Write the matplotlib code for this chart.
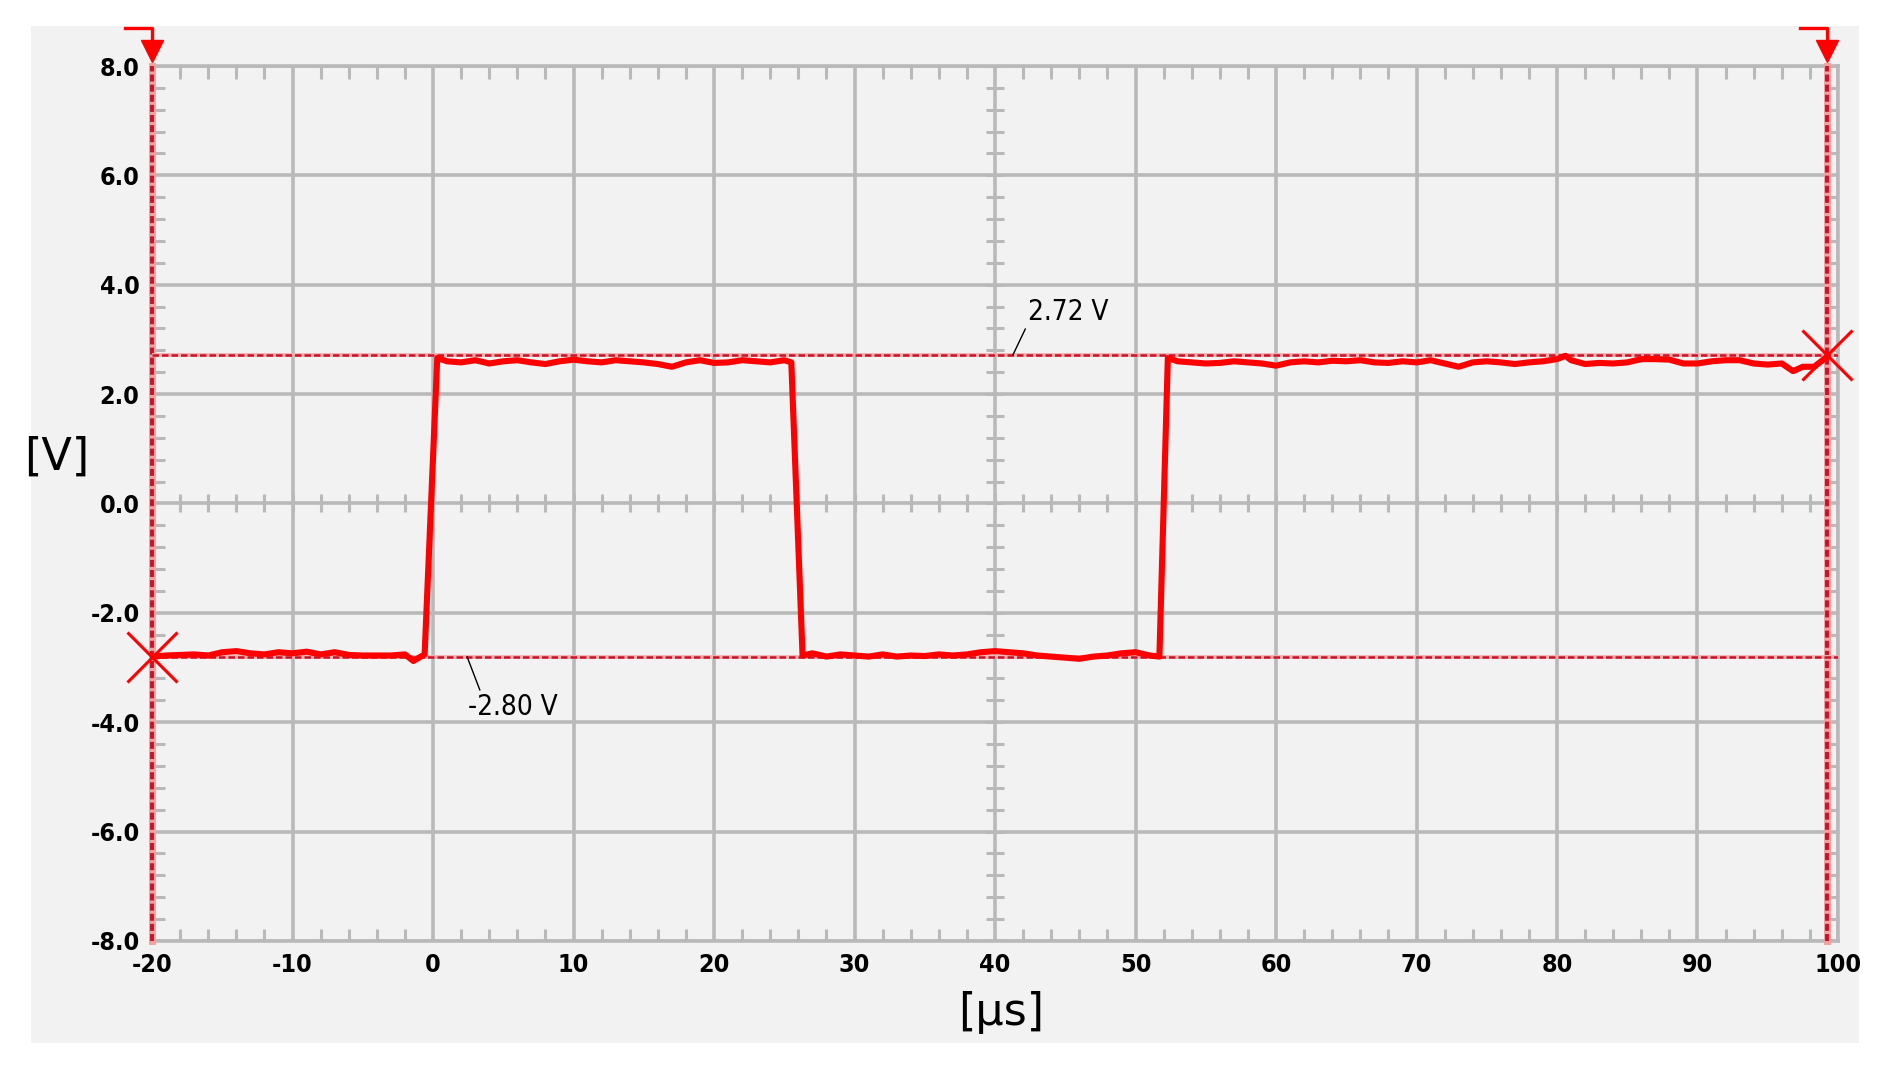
import numpy as np
import matplotlib
matplotlib.use("Agg")
import matplotlib.pyplot as plt
from matplotlib.patches import Rectangle

plt.rcParams['axes.unicode_minus'] = False
plt.rcParams['font.family'] = ['DejaVu Sans']

# --- signal ---
t_low1 = [-20, -19, -18, -17, -16, -15, -14, -13, -12, -11, -10, -9, -8, -7,
          -6, -5, -4, -3, -2, -1.4, -0.6]
v_low1 = [-2.80, -2.78, -2.77, -2.76, -2.78, -2.72, -2.70, -2.74, -2.76, -2.72,
          -2.74, -2.71, -2.76, -2.72, -2.77, -2.78, -2.78, -2.78, -2.76, -2.88, -2.76]

t_high1 = [0.3, 1, 2, 3, 4, 5, 6, 7, 8, 9, 10, 11, 12, 13, 14, 15, 16, 17, 18,
           19, 20, 21, 22, 23, 24, 25, 25.5]
v_high1 = [2.66, 2.60, 2.58, 2.62, 2.56, 2.60, 2.62, 2.58, 2.55, 2.60, 2.63, 2.60,
           2.58, 2.62, 2.60, 2.58, 2.55, 2.50, 2.58, 2.62, 2.57, 2.58, 2.62, 2.60,
           2.58, 2.62, 2.58]

t_low2 = [26.3, 27, 28, 29, 30, 31, 32, 33, 34, 35, 36, 37, 38, 39, 40, 41, 42,
          43, 44, 45, 46, 47, 48, 49, 50, 51, 51.7]
v_low2 = [-2.78, -2.74, -2.80, -2.76, -2.78, -2.80, -2.76, -2.80, -2.78, -2.79,
          -2.76, -2.78, -2.76, -2.72, -2.70, -2.72, -2.74, -2.78, -2.80, -2.82,
          -2.84, -2.80, -2.78, -2.74, -2.72, -2.78, -2.80]

t_high2 = [52.3, 53, 54, 55, 56, 57, 58, 59, 60, 61, 62, 63, 64, 65, 66, 67, 68,
           69, 70, 71, 72, 73, 74, 75, 76, 77, 78, 79, 80, 80.6, 81, 82, 83, 84,
           85, 86, 87, 88, 89, 90, 91, 92, 93, 94, 95, 96, 96.8, 97.5, 98.3, 99.1]
v_high2 = [2.66, 2.60, 2.58, 2.56, 2.57, 2.60, 2.58, 2.56, 2.52, 2.58, 2.60, 2.58,
           2.61, 2.60, 2.62, 2.58, 2.57, 2.60, 2.58, 2.62, 2.56, 2.50, 2.58, 2.60,
           2.58, 2.55, 2.58, 2.60, 2.64, 2.70, 2.62, 2.55, 2.57, 2.56, 2.58, 2.64,
           2.64, 2.63, 2.56, 2.56, 2.60, 2.62, 2.62, 2.56, 2.54, 2.56, 2.42, 2.50,
           2.50, 2.66]

# cursors
cursor_t = [-20, 99.2]
cursor_v = [-2.80, 2.72]
cursor_labels = ['-2.80 V', '2.72 V']

x_ticks = [-20, -10, 0, 10, 20, 30, 40, 50, 60, 70, 80, 90, 100]
y_ticks = [-8.0, -6.0, -4.0, -2.0, 0.0, 2.0, 4.0, 6.0, 8.0]

t = np.concatenate([t_low1, t_high1, t_low2, t_high2])
v = np.concatenate([v_low1, v_high1, v_low2, v_high2])

grid_c = '#b9b9b9'
bg = '#f2f2f2'
red = '#ff0000'
dred = '#c81428'

fig = plt.figure(figsize=(18.96, 10.75), dpi=100)
fig.patch.set_facecolor('white')
fig.patches.append(Rectangle((0.0164, 0.0298), 0.9641, 0.946, transform=fig.transFigure,
                             facecolor=bg, edgecolor='none', zorder=-10))

ax = fig.add_axes([0.0802, 0.1247, 0.8892, 0.8139])
ax.set_facecolor(bg)
ax.set_xlim(-20, 100)
ax.set_ylim(-8, 8)

ax.set_xticks(x_ticks)
ax.set_xticklabels([str(x) for x in x_ticks])
ax.set_yticks(y_ticks)
ax.set_yticklabels(['%.1f' % y for y in y_ticks])
ax.set_xticks(np.arange(-20, 100.1, 2), minor=True)
ax.set_yticks(np.arange(-8, 8.01, 0.4), minor=True)
ax.grid(True, which='major', color=grid_c, lw=2.6, zorder=0)
ax.tick_params(which='major', length=0, pad=9, labelsize=18, labelcolor='black')
ax.tick_params(which='minor', direction='in', length=9, width=2.2, color=grid_c,
               top=True, right=True)
for lbl in ax.get_xticklabels() + ax.get_yticklabels():
    lbl.set_fontweight('bold')
    lbl.set_fontstretch('condensed')
for s in ax.spines.values():
    s.set_color(grid_c)
    s.set_linewidth(2.6)

# crosshair ticks on center lines
mx = np.arange(-20, 100.1, 2)
my = np.arange(-8, 8.01, 0.4)
ax.plot(mx, np.zeros_like(mx), ls='none', marker='|', ms=13, mew=2.2, color=grid_c, zorder=1)
ax.plot(np.full_like(my, 40.0), my, ls='none', marker='_', ms=13, mew=2.2, color=grid_c, zorder=1)

# cursor lines
for ct in cursor_t:
    ax.axvline(ct, color='#f6a0a0', lw=5, zorder=3, clip_on=False)
    ax.axvline(ct, color=dred, lw=2.8, dashes=(1.8, 0.8), zorder=3, clip_on=False)
for cv in cursor_v:
    ax.axhline(cv, color='#f6b0b0', lw=2.8, zorder=3)
    ax.axhline(cv, color=dred, lw=1.8, dashes=(2.6, 1.2), zorder=3)

# signal
ax.plot(t, v, color=red, lw=4.4, zorder=4, solid_joinstyle='round')

# cursor markers
ax.plot(cursor_t, cursor_v, ls='none', marker='x', ms=36, mew=2.2, color=red,
        zorder=5, clip_on=False)

# top cursor flags
for ct in cursor_t:
    ax.plot([ct - 1.9, ct, ct], [8.69, 8.69, 8.35], color=red, lw=2.4, clip_on=False, zorder=6)
    ax.plot([ct], [8.28], ls='none', marker='v', ms=16, color=red, clip_on=False, zorder=6)

# cursor value annotations
ax.annotate(cursor_labels[1], xy=(41.28, cursor_v[1]), xytext=(42.35, 3.50),
            fontsize=20, va='center', ha='left', fontstretch='condensed',
            arrowprops=dict(arrowstyle='-', color='black', lw=1.0, shrinkA=0, shrinkB=0,
                            relpos=(0.0, 0.1)), zorder=7)
ax.annotate(cursor_labels[0], xy=(2.42, cursor_v[0]), xytext=(2.49, -3.72),
            fontsize=20, va='center', ha='left', fontstretch='condensed',
            arrowprops=dict(arrowstyle='-', color='black', lw=1.0, shrinkA=0, shrinkB=0,
                            relpos=(0.15, 0.95)), zorder=7)

ax.set_ylabel('[V]', rotation=0, fontsize=32, va='center', ha='center')
ax.yaxis.set_label_coords(-0.0563, 0.553)
ax.set_xlabel('[µs]', fontsize=32, va='center', ha='center')
ax.xaxis.set_label_coords(0.5036, -0.082)

fig.savefig('out.png', dpi=100, facecolor='white')
